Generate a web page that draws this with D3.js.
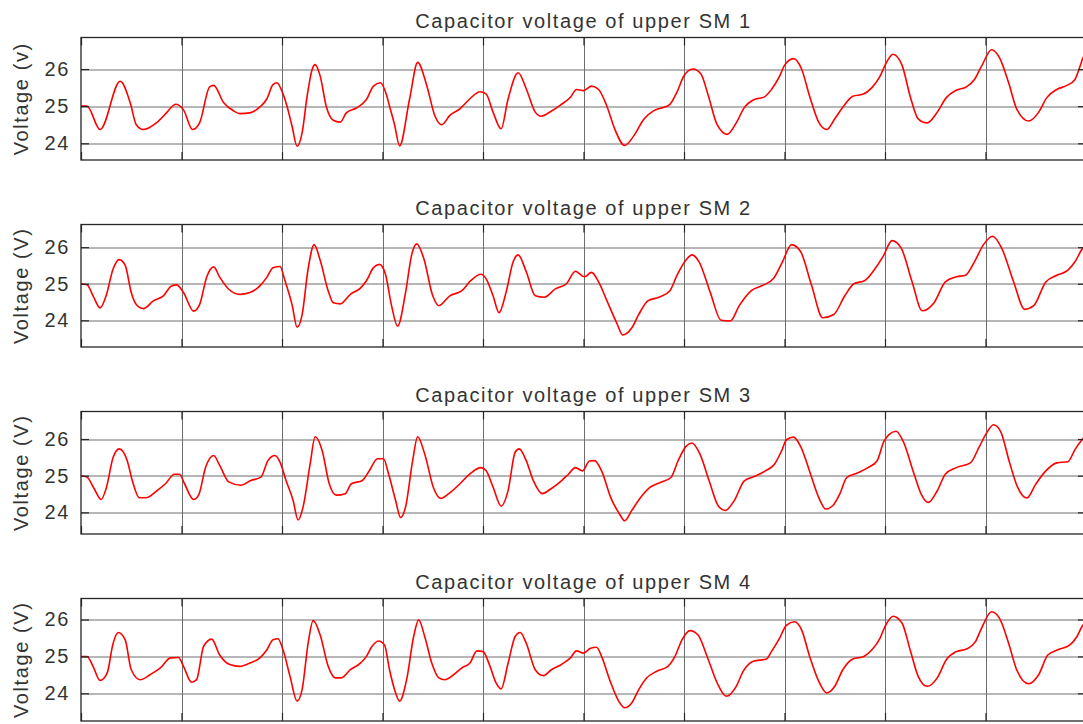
<!DOCTYPE html>
<html>
<head>
<meta charset="utf-8">
<script src="https://cdn.jsdelivr.net/npm/d3@7"></script>
<style>
  body { margin: 0; background: #fff; }
  svg { display: block; font-family: "Liberation Sans", Arial, sans-serif; }
  .lbl { fill: #333; font-size: 20px; letter-spacing: 1.6px; }
  .axis path { display: none; }
  .axis line { stroke: #262626; stroke-width: 1.2; }
  .axis text { fill: #333; font-size: 20px; letter-spacing: 1.6px; font-family: "Liberation Sans", Arial, sans-serif; }
  .grid line { stroke: #6e6e6e; stroke-width: 1; }
</style>
</head>
<body>
<svg id="chart" width="1083" height="724"></svg>
<script>
// capacitor voltages of upper SM 1..4 (x in grid divisions)
var sm1T = [0,0.06,0.19,0.39,0.49,0.55,0.62,0.75,0.85,0.92,0.94,1.02,1.11,1.18,1.28,1.32,1.42,1.52,1.58,1.68,1.78,1.85,1.91,1.95,2.0,2.05,2.1,2.15,2.2,2.25,2.3,2.33,2.38,2.44,2.51,2.58,2.64,2.74,2.84,2.91,2.98,3.04,3.07,3.12,3.17,3.27,3.35,3.44,3.52,3.59,3.67,3.77,3.87,3.97,4.03,4.1,4.18,4.25,4.35,4.43,4.52,4.58,4.67,4.77,4.87,4.93,5.0,5.08,5.15,5.23,5.31,5.41,5.5,5.6,5.7,5.8,5.86,5.93,6.0,6.09,6.17,6.24,6.33,6.43,6.52,6.6,6.7,6.8,6.87,6.95,7.0,7.09,7.17,7.25,7.34,7.42,7.5,7.58,7.68,7.78,7.87,7.95,8.0,8.08,8.17,8.25,8.33,8.42,8.52,8.61,8.71,8.81,8.89,8.96,9.06,9.14,9.23,9.31,9.43,9.53,9.61,9.71,9.81,9.89,9.94,9.97,10.0];
var sm1V = [25.0,25.0,24.37,25.67,25.09,24.5,24.37,24.55,24.82,25.02,25.05,24.9,24.37,24.55,25.52,25.56,25.09,24.87,24.8,24.82,24.98,25.2,25.58,25.63,25.4,25.0,24.46,23.92,24.28,25.27,25.99,26.12,25.81,25.0,24.62,24.57,24.82,24.95,25.18,25.54,25.63,25.3,25.0,24.5,23.93,25.2,26.18,25.56,24.75,24.5,24.75,24.93,25.2,25.39,25.33,24.84,24.39,25.2,25.9,25.47,24.84,24.73,24.85,25.03,25.24,25.45,25.42,25.54,25.45,25.02,24.39,23.94,24.2,24.65,24.88,24.97,25.05,25.38,25.82,26.0,25.86,25.3,24.5,24.24,24.55,24.96,25.18,25.25,25.45,25.8,26.1,26.28,26.0,25.27,24.57,24.37,24.66,24.97,25.27,25.32,25.5,25.8,26.1,26.4,26.1,25.27,24.66,24.55,24.84,25.23,25.43,25.52,25.72,26.07,26.52,26.3,25.63,24.93,24.6,24.84,25.23,25.45,25.56,25.72,26.07,26.3,26.4];

var sm2T = [0,0.06,0.12,0.19,0.25,0.32,0.38,0.44,0.5,0.55,0.62,0.72,0.82,0.9,0.95,1.02,1.12,1.18,1.25,1.32,1.38,1.47,1.58,1.68,1.78,1.85,1.91,1.98,2.03,2.1,2.15,2.2,2.26,2.32,2.38,2.46,2.51,2.58,2.68,2.78,2.84,2.91,2.97,3.03,3.09,3.15,3.23,3.29,3.34,3.41,3.5,3.56,3.67,3.79,3.88,3.98,4.03,4.1,4.16,4.23,4.3,4.35,4.43,4.52,4.61,4.72,4.83,4.92,5.01,5.08,5.15,5.24,5.33,5.39,5.48,5.55,5.64,5.75,5.86,5.93,6.02,6.08,6.15,6.26,6.37,6.46,6.55,6.67,6.78,6.89,6.98,7.07,7.16,7.27,7.38,7.49,7.6,7.69,7.8,7.89,7.98,8.07,8.16,8.27,8.37,8.49,8.6,8.71,8.8,8.89,8.98,9.07,9.16,9.28,9.39,9.48,9.6,9.71,9.82,9.89,9.97,10.0];
var sm2V = [25.0,24.97,24.67,24.34,24.67,25.41,25.66,25.5,24.76,24.43,24.32,24.53,24.67,24.94,24.97,24.76,24.25,24.43,25.18,25.46,25.18,24.85,24.71,24.76,24.94,25.18,25.44,25.47,25.08,24.43,23.81,24.15,25.41,26.07,25.64,24.8,24.48,24.45,24.71,24.88,25.08,25.44,25.53,25.25,24.4,23.84,24.77,25.79,26.09,25.7,24.67,24.4,24.67,24.81,25.09,25.26,25.14,24.67,24.21,24.77,25.6,25.79,25.33,24.67,24.63,24.86,25.0,25.34,25.19,25.31,25.05,24.49,23.93,23.6,23.79,24.16,24.53,24.63,24.81,25.23,25.65,25.79,25.6,24.77,24.0,23.98,24.4,24.81,24.95,25.14,25.6,26.07,25.88,24.95,24.07,24.16,24.67,25.0,25.09,25.37,25.74,26.18,25.98,25.05,24.26,24.49,25.05,25.19,25.23,25.6,26.07,26.3,25.98,25.05,24.3,24.4,25.05,25.23,25.37,25.6,25.98,26.05];

var sm3T = [0,0.06,0.13,0.2,0.25,0.32,0.38,0.46,0.51,0.58,0.65,0.76,0.84,0.93,0.98,1.03,1.12,1.17,1.24,1.32,1.38,1.47,1.59,1.69,1.79,1.86,1.93,1.98,2.04,2.11,2.16,2.21,2.28,2.33,2.4,2.47,2.54,2.63,2.69,2.8,2.87,2.95,3.01,3.06,3.13,3.18,3.23,3.3,3.35,3.42,3.51,3.58,3.66,3.77,3.87,3.98,4.03,4.1,4.18,4.25,4.32,4.36,4.43,4.5,4.59,4.67,4.78,4.85,4.92,4.99,5.06,5.11,5.18,5.27,5.36,5.41,5.48,5.57,5.66,5.76,5.87,5.94,6.02,6.08,6.16,6.25,6.34,6.41,6.5,6.6,6.71,6.81,6.9,6.97,7.02,7.09,7.16,7.27,7.34,7.41,7.48,7.55,7.62,7.73,7.83,7.92,7.99,8.04,8.11,8.18,8.29,8.36,8.43,8.52,8.6,8.71,8.85,8.94,9.01,9.08,9.15,9.24,9.32,9.41,9.5,9.6,9.71,9.82,9.89,9.96,10.0];
var sm3V = [25.0,24.96,24.65,24.35,24.65,25.5,25.73,25.41,24.87,24.4,24.4,24.6,24.78,25.04,25.04,24.78,24.35,24.47,25.23,25.55,25.28,24.83,24.74,24.87,24.96,25.41,25.55,25.37,24.87,24.33,23.79,24.15,25.32,26.06,25.68,24.78,24.47,24.51,24.78,24.87,25.14,25.46,25.46,25.05,24.33,23.86,24.15,25.41,26.06,25.59,24.65,24.38,24.51,24.78,25.05,25.22,25.14,24.69,24.17,24.6,25.64,25.73,25.41,24.87,24.51,24.63,24.86,25.04,25.22,25.13,25.4,25.41,25.13,24.41,23.95,23.77,24.05,24.41,24.68,24.81,24.95,25.4,25.8,25.89,25.58,24.86,24.18,24.05,24.32,24.86,24.99,25.13,25.31,25.67,25.98,26.05,25.8,24.95,24.41,24.09,24.18,24.5,24.95,25.08,25.22,25.4,25.94,26.12,26.21,25.94,25.04,24.5,24.27,24.59,25.04,25.22,25.35,25.8,26.16,26.39,26.21,25.35,24.68,24.39,24.77,25.13,25.35,25.38,25.71,25.98,26.1];

var sm4T = [0,0.06,0.12,0.19,0.26,0.32,0.37,0.44,0.5,0.59,0.69,0.79,0.89,0.97,1.02,1.1,1.15,1.22,1.3,1.38,1.48,1.58,1.68,1.78,1.85,1.91,1.96,2.01,2.08,2.15,2.2,2.26,2.31,2.38,2.46,2.53,2.59,2.68,2.78,2.84,2.89,2.96,3.02,3.07,3.12,3.17,3.24,3.31,3.36,3.42,3.49,3.56,3.62,3.71,3.79,3.87,3.94,4.0,4.07,4.13,4.18,4.25,4.32,4.37,4.43,4.52,4.6,4.68,4.78,4.87,4.93,5.0,5.07,5.13,5.18,5.26,5.35,5.41,5.48,5.55,5.63,5.73,5.84,5.91,5.98,6.06,6.14,6.23,6.33,6.42,6.52,6.59,6.69,6.82,6.87,6.95,7.02,7.1,7.17,7.25,7.34,7.42,7.5,7.58,7.68,7.79,7.87,7.95,8.0,8.08,8.17,8.25,8.33,8.42,8.52,8.61,8.71,8.81,8.9,8.96,9.06,9.14,9.23,9.31,9.43,9.53,9.62,9.72,9.84,9.91,9.96,10.0];
var sm4V = [25.0,25.0,24.73,24.35,24.55,25.36,25.65,25.45,24.64,24.37,24.51,24.69,24.96,24.97,24.73,24.3,24.37,25.27,25.47,25.04,24.78,24.73,24.82,24.96,25.18,25.45,25.48,25.18,24.46,23.79,24.1,25.36,25.97,25.58,24.73,24.42,24.42,24.64,24.82,25.0,25.25,25.42,25.31,24.64,24.1,23.79,24.37,25.54,25.99,25.54,24.82,24.42,24.37,24.51,24.69,24.82,25.15,25.13,24.73,24.28,24.12,24.82,25.54,25.65,25.36,24.64,24.48,24.64,24.78,24.96,25.15,25.09,25.22,25.25,25.0,24.37,23.79,23.61,23.74,24.1,24.42,24.6,24.73,25.0,25.45,25.7,25.58,25.0,24.28,23.92,24.19,24.6,24.87,24.93,25.13,25.49,25.85,25.94,25.72,25.0,24.33,24.01,24.19,24.64,24.93,25.0,25.18,25.49,25.81,26.09,25.9,25.18,24.46,24.19,24.42,24.91,25.13,25.2,25.4,25.76,26.21,26.03,25.36,24.64,24.26,24.51,25.04,25.18,25.31,25.54,25.81,25.95];

var titles = ['Capacitor voltage of upper SM 1', 'Capacitor voltage of upper SM 2',
              'Capacitor voltage of upper SM 3', 'Capacitor voltage of upper SM 4'];
var yLabels = ['Voltage (v)', 'Voltage (V)', 'Voltage (V)', 'Voltage (V)'];
var yDomains = [[23.55, 26.85], [23.27, 26.62], [23.41, 26.75], [23.25, 26.57]];
var yTicks = [24, 25, 26];
var xTicks = [0, 1, 2, 3, 4, 5, 6, 7, 8, 9, 10];

var series = [[sm1T, sm1V], [sm2T, sm2V], [sm3T, sm3V], [sm4T, sm4V]];

var svg = d3.select('#chart');
svg.append('rect').attr('width', 1083).attr('height', 724).attr('fill', '#fff');

var left = 81, plotW = 1005, plotH = 122.5;
var tops = [37.5, 224.5, 411.5, 598.5];

var xScale = d3.scaleLinear().domain([0, 10]).range([0, plotW]);

series.forEach(function(s, i) {
    var yScale = d3.scaleLinear().domain(yDomains[i]).range([plotH, 0]);
    var g = svg.append('g').attr('transform', 'translate(' + [left, tops[i]] + ')');

    g.append('clipPath').attr('id', 'clip' + i)
        .append('rect').attr('width', plotW).attr('height', plotH);

    // grid
    g.append('g').attr('class', 'grid')
        .selectAll('line.h').data(yTicks).enter().append('line')
        .attr('x1', 0).attr('x2', plotW)
        .attr('y1', function(d) { return Math.round(yScale(d)) + 0.5; })
        .attr('y2', function(d) { return Math.round(yScale(d)) + 0.5; });
    g.append('g').attr('class', 'grid')
        .selectAll('line.v').data(xTicks.slice(1, -1)).enter().append('line')
        .attr('y1', 0).attr('y2', plotH)
        .attr('x1', function(d) { return Math.round(xScale(d)) + 0.5; })
        .attr('x2', function(d) { return Math.round(xScale(d)) + 0.5; });

    // the trace
    var pts = s[0].map(function(t, k) { return [t, s[1][k]]; });
    g.append('path')
        .datum(pts)
        .attr('clip-path', 'url(#clip' + i + ')')
        .attr('fill', 'none')
        .attr('stroke', '#ff0000')
        .attr('stroke-width', 1.6)
        .attr('stroke-linejoin', 'round')
        .attr('d', d3.line()
            .curve(d3.curveMonotoneX)
            .x(function(d) { return xScale(d[0]); })
            .y(function(d) { return yScale(d[1]); }));

    // axes, ticks pointing inward
    g.append('g').attr('class', 'axis')
        .call(d3.axisLeft(yScale).tickValues(yTicks).tickSize(-8).tickPadding(11).tickFormat(d3.format('d')));
    g.append('g').attr('class', 'axis')
        .attr('transform', 'translate(' + plotW + ',0)')
        .call(d3.axisRight(yScale).tickValues(yTicks).tickSize(-8).tickFormat(''));
    g.append('g').attr('class', 'axis')
        .attr('transform', 'translate(0,' + plotH + ')')
        .call(d3.axisBottom(xScale).tickValues(xTicks).tickSize(-8).tickFormat(''));
    g.append('g').attr('class', 'axis')
        .call(d3.axisTop(xScale).tickValues(xTicks).tickSize(-8).tickFormat(''));

    g.append('rect')
        .attr('width', plotW).attr('height', plotH)
        .attr('fill', 'none').attr('stroke', '#262626').attr('stroke-width', 1.3);

    g.append('text').attr('class', 'lbl')
        .attr('x', plotW / 2).attr('y', -10)
        .attr('text-anchor', 'middle')
        .text(titles[i]);

    g.append('text').attr('class', 'lbl')
        .attr('transform', 'translate(' + [-53, plotH / 2] + ') rotate(-90)')
        .attr('text-anchor', 'middle')
        .text(yLabels[i]);
});
</script>
</body>
</html>
